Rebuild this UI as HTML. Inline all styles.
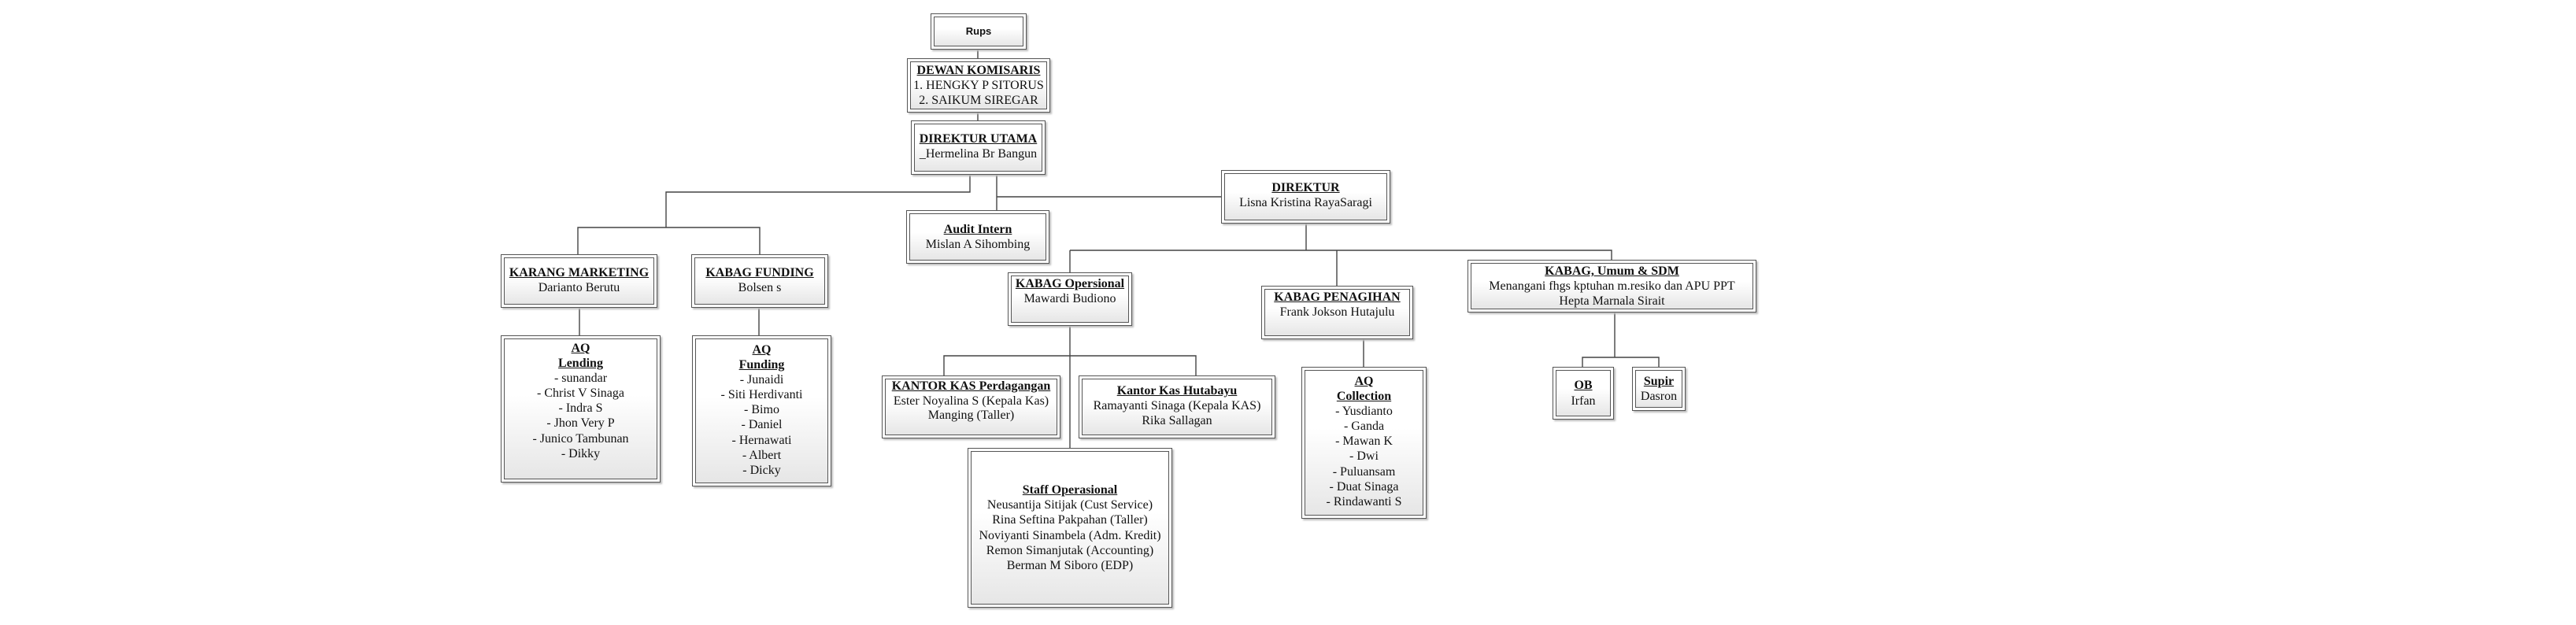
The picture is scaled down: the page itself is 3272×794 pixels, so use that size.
<!DOCTYPE html>
<html><head><meta charset="utf-8"><style>
body{margin:0;width:3272px;height:794px;background:#fff;position:relative;overflow:hidden;font-family:"Liberation Serif",serif;}
.b{position:absolute;box-sizing:border-box;border:1px solid #555;padding:3px;box-shadow:2px 2px 2px #bbb;background:#fff;}
.i{box-sizing:border-box;border:1px solid #555;width:100%;height:100%;background:linear-gradient(#fff,#fff 40%,#e6e6e6);text-align:center;font-size:16px;line-height:19.1px;color:#111;}
.c{display:flex;flex-direction:column;justify-content:center;}
.t{font-weight:bold;text-decoration:underline;}
svg{position:absolute;left:0;top:0}
</style></head><body>
<svg width="3272" height="794"><g stroke="#444" stroke-width="1.4" fill="none">
<path d="M1242 63V74M1242 143V153"/>
<path d="M1232 222V244H846V289M734 323V289H965V323"/>
<path d="M1266 222V267M1266 250H1551"/>
<path d="M1659 284V318M1359 318H2047V330M1359 318V346M1698 318V363"/>
<path d="M736 391V426M964 391V426"/>
<path d="M1359 414V569M1199 477V452H1519V477"/>
<path d="M1732 431V466"/>
<path d="M2051 397V454M2010 466V454H2107V466"/>
</g></svg>

<div class="b" style="left:1182px;top:17px;width:122px;height:46px"><div class="i c" style="font-family:'Liberation Sans',sans-serif;font-weight:bold;font-size:13px">Rups</div></div>

<div class="b" style="left:1152px;top:74px;width:182px;height:69px"><div class="i" style="padding-top:1px"><div class="t">DEWAN KOMISARIS</div>1. HENGKY P SITORUS<br>2. SAIKUM SIREGAR</div></div>

<div class="b" style="left:1157px;top:153px;width:171px;height:69px"><div class="i" style="padding-top:9px"><div class="t">DIREKTUR UTAMA</div>_Hermelina Br Bangun</div></div>

<div class="b" style="left:1151px;top:267px;width:182px;height:68px"><div class="i" style="padding-top:10px"><div class="t">Audit Intern</div>Mislan A Sihombing</div></div>

<div class="b" style="left:1551px;top:216px;width:215px;height:68px"><div class="i" style="padding-top:8px"><div class="t">DIREKTUR</div>Lisna Kristina RayaSaragi</div></div>

<div class="b" style="left:636px;top:323px;width:199px;height:68px"><div class="i" style="padding-top:9px"><div class="t">KARANG MARKETING</div>Darianto Berutu</div></div>

<div class="b" style="left:878px;top:323px;width:174px;height:68px"><div class="i" style="padding-top:9px"><div class="t">KABAG FUNDING</div>Bolsen s</div></div>

<div class="b" style="left:636px;top:426px;width:203px;height:187px"><div class="i" style="padding-top:2px"><div class="t">AQ<br>Lending</div>- sunandar<br>- Christ V Sinaga<br>- Indra S<br>- Jhon Very P<br>- Junico Tambunan<br>- Dikky</div></div>

<div class="b" style="left:879px;top:426px;width:177px;height:192px"><div class="i" style="padding-top:4px"><div class="t">AQ<br>Funding</div>- Junaidi<br>- Siti Herdivanti<br>- Bimo<br>- Daniel<br>- Hernawati<br>- Albert<br>- Dicky</div></div>

<div class="b" style="left:1280px;top:346px;width:158px;height:68px"><div class="i" style="padding-top:0px"><div class="t">KABAG Opersional</div>Mawardi Budiono</div></div>

<div class="b" style="left:1120px;top:477px;width:227px;height:80px"><div class="i" style="padding-top:0px;line-height:18.5px"><div class="t">KANTOR KAS Perdagangan</div>Ester Noyalina S (Kepala Kas)<br>Manging (Taller)</div></div>

<div class="b" style="left:1370px;top:477px;width:250px;height:80px"><div class="i" style="padding-top:5px"><div class="t">Kantor Kas Hutabayu</div>Ramayanti Sinaga (Kepala KAS)<br>Rika Sallagan</div></div>

<div class="b" style="left:1229px;top:569px;width:260px;height:203px"><div class="i c"><div class="t">Staff Operasional</div>Neusantija Sitijak (Cust Service)<br>Rina Seftina Pakpahan (Taller)<br>Noviyanti Sinambela (Adm. Kredit)<br>Remon Simanjutak (Accounting)<br>Berman M Siboro (EDP)</div></div>

<div class="b" style="left:1602px;top:363px;width:193px;height:68px"><div class="i" style="padding-top:0px"><div class="t">KABAG PENAGIHAN</div>Frank Jokson Hutajulu</div></div>

<div class="b" style="left:1864px;top:330px;width:367px;height:67px"><div class="i" style="padding-top:0px"><div class="t">KABAG, Umum &amp; SDM</div>Menangani fhgs kptuhan m.resiko dan APU PPT<br>Hepta Marnala Sirait</div></div>

<div class="b" style="left:1653px;top:466px;width:159px;height:193px"><div class="i" style="padding-top:4px"><div class="t">AQ<br>Collection</div>- Yusdianto<br>- Ganda<br>- Mawan K<br>- Dwi<br>- Puluansam<br>- Duat Sinaga<br>- Rindawanti S</div></div>

<div class="b" style="left:1972px;top:466px;width:78px;height:67px"><div class="i c"><div class="t">OB</div>Irfan</div></div>

<div class="b" style="left:2073px;top:466px;width:68px;height:56px"><div class="i c"><div class="t">Supir</div>Dasron</div></div>
</body></html>
